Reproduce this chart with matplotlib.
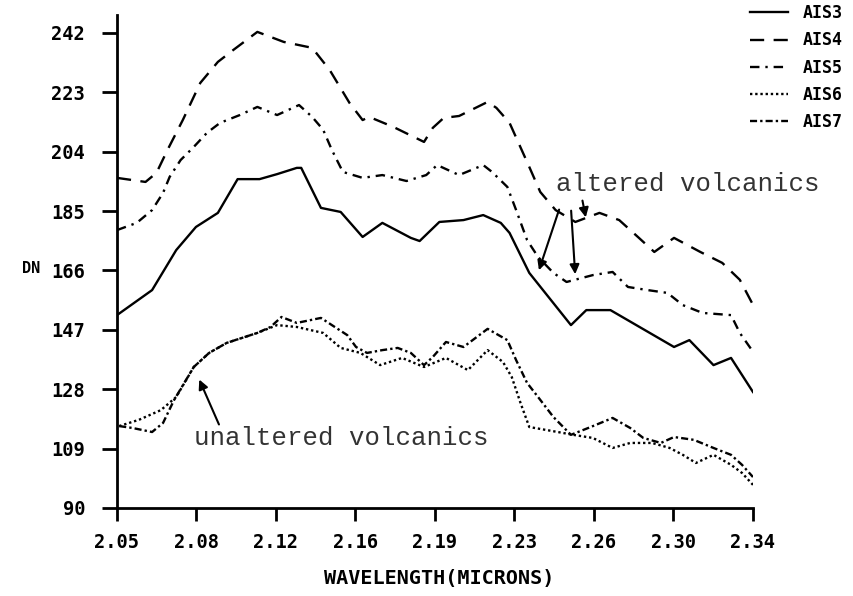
import matplotlib
matplotlib.use("Agg")
import matplotlib.pyplot as plt

# wavelength (microns) and DN
x3 = [2.050, 2.066, 2.077, 2.086, 2.096, 2.105, 2.115, 2.123, 2.132, 2.134, 2.143, 2.152, 2.162, 2.171, 2.184,
      2.188, 2.197, 2.208, 2.217, 2.225, 2.229, 2.238, 2.257, 2.264, 2.275, 2.304, 2.311, 2.322, 2.330, 2.340]
ais3 = [151.7, 159.7, 172.5, 179.9, 184.4, 195.2, 195.2, 196.8, 198.8, 198.8, 186.0, 184.7, 176.7, 181.2, 176.4,
        175.4, 181.5, 182.1, 183.7, 181.2, 178.0, 165.2, 148.5, 153.3, 153.3, 141.5, 143.7, 135.7, 138.0, 127.1]

x4 = [2.050, 2.063, 2.068, 2.073, 2.080, 2.088, 2.096, 2.103, 2.114, 2.126, 2.139, 2.147, 2.156, 2.162, 2.165,
      2.176, 2.190, 2.194, 2.199, 2.206, 2.219, 2.223, 2.229, 2.238, 2.243, 2.250, 2.259, 2.270, 2.279, 2.288,
      2.295, 2.304, 2.316, 2.326, 2.334, 2.340]
ais4 = [195.6, 194.3, 197.2, 204.5, 214.1, 226.0, 232.7, 236.5, 242.3, 239.1, 237.2, 230.1, 219.6, 214.1, 215.1,
        211.9, 207.1, 211.6, 214.8, 215.4, 219.9, 218.0, 213.2, 199.1, 191.1, 185.3, 181.5, 184.4, 182.1, 176.4,
        171.9, 176.4, 171.9, 168.4, 163.0, 155.0]

x5 = [2.050, 2.059, 2.066, 2.071, 2.074, 2.079, 2.085, 2.091, 2.097, 2.106, 2.114, 2.123, 2.133, 2.139, 2.144,
      2.148, 2.153, 2.162, 2.171, 2.182, 2.191, 2.196, 2.206, 2.217, 2.221, 2.228, 2.232, 2.237, 2.242, 2.249,
      2.255, 2.267, 2.276, 2.283, 2.292, 2.301, 2.308, 2.317, 2.330, 2.334, 2.340]
ais5 = [178.9, 181.2, 185.3, 190.8, 195.9, 201.3, 205.5, 210.0, 213.2, 215.7, 218.3, 215.7, 218.9, 215.1, 211.0,
        204.5, 197.5, 195.6, 196.5, 194.6, 196.5, 199.7, 196.5, 199.7, 197.5, 192.7, 185.3, 175.7, 170.3, 165.2,
        162.3, 164.5, 165.5, 160.7, 159.7, 158.8, 154.9, 152.4, 151.7, 146.0, 140.0]

x6 = [2.051, 2.060, 2.070, 2.077, 2.085, 2.092, 2.100, 2.107, 2.114, 2.123, 2.132, 2.144, 2.152, 2.161, 2.170,
      2.180, 2.190, 2.200, 2.210, 2.219, 2.226, 2.230, 2.234, 2.238, 2.251, 2.258, 2.267, 2.276, 2.284, 2.294,
      2.302, 2.308, 2.314, 2.322, 2.330, 2.335, 2.340]
ais6 = [116.2, 118.2, 121.3, 125.5, 135.1, 139.6, 142.8, 144.4, 146.0, 148.5, 147.9, 146.0, 141.2, 139.6, 135.7,
        138.0, 135.1, 138.0, 134.1, 140.5, 136.7, 131.9, 123.6, 115.9, 114.3, 113.4, 112.4, 109.2, 110.8, 110.8,
        109.2, 107.0, 104.4, 107.0, 103.8, 101.2, 97.4]

x7 = [2.051, 2.057, 2.066, 2.071, 2.076, 2.085, 2.092, 2.100, 2.107, 2.114, 2.120, 2.125, 2.132, 2.143, 2.148,
      2.155, 2.159, 2.164, 2.171, 2.178, 2.184, 2.190, 2.194, 2.200, 2.208, 2.219, 2.228, 2.232, 2.237, 2.242,
      2.249, 2.257, 2.266, 2.276, 2.284, 2.290, 2.298, 2.304, 2.313, 2.322, 2.330, 2.335, 2.340]
ais7 = [116.2, 115.6, 114.3, 117.2, 124.5, 135.1, 139.6, 142.8, 144.4, 146.0, 147.9, 151.1, 149.2, 150.8, 148.5,
        145.3, 141.5, 139.6, 140.5, 141.2, 139.6, 135.7, 138.3, 143.1, 141.5, 147.3, 143.7, 137.3, 130.0, 125.5,
        119.1, 113.4, 115.9, 118.8, 115.6, 112.4, 110.8, 112.7, 111.8, 109.2, 107.0, 103.8, 99.9]

xticks = [2.05, 2.08625, 2.1225, 2.15875, 2.195, 2.23125, 2.2675, 2.30375, 2.34]
xlabels = ['2.05', '2.08', '2.12', '2.16', '2.19', '2.23', '2.26', '2.30', '2.34']
yticks = [90, 109, 128, 147, 166, 185, 204, 223, 242]

tickfont = {'family': 'DejaVu Sans Mono', 'weight': 'bold', 'size': 13.5}

fig = plt.figure(figsize=(8.54, 5.96), dpi=100)
ax = fig.add_axes([0.137, 0.1477, 0.7447, 0.8271])

lw = 1.7
ax.plot(x3, ais3, color='black', lw=lw, label='AIS3')
ax.plot(x4, ais4, color='black', lw=lw, linestyle=(0, (6, 4)), label='AIS4')
ax.plot(x5, ais5, color='black', lw=lw, linestyle=(0, (4, 2.5, 1, 2.5)), label='AIS5')
ax.plot(x6, ais6, color='black', lw=lw, linestyle=(0, (1, 1.2)), label='AIS6')
ax.plot(x7, ais7, color='black', lw=lw, linestyle=(0, (3, 1.3, 1, 1.3)), label='AIS7')

ax.set_xlim(2.05, 2.34)
ax.set_ylim(90, 247.7)
ax.set_xticks(xticks)
ax.set_xticklabels(xlabels, fontdict=tickfont)
ax.set_yticks(yticks)
ax.set_yticklabels([str(v) for v in yticks], fontdict=tickfont)
ax.tick_params(axis='y', length=11, width=2, pad=12)
ax.tick_params(axis='x', length=9, width=2, pad=9)
ax.spines['top'].set_visible(False)
ax.spines['right'].set_visible(False)
ax.spines['left'].set_linewidth(2)
ax.spines['bottom'].set_linewidth(2)

fig.text(0.026, 0.55, 'DN', fontfamily='DejaVu Sans Mono', fontweight='bold', fontsize=11, va='center')
fig.text(0.514, 0.03, 'WAVELENGTH(MICRONS)', fontfamily='DejaVu Sans Mono', fontweight='bold',
         fontsize=14.5, ha='center', va='center')

fig.legend(loc='upper left', bbox_to_anchor=(0.878, 0.993), frameon=False, borderaxespad=0, borderpad=0,
           handlelength=2.3, handletextpad=0.9, labelspacing=0.55,
           prop={'family': 'DejaVu Sans Mono', 'weight': 'bold', 'size': 12})

note = {'family': 'Liberation Mono', 'size': 18.5, 'color': '#333333'}
arrow = dict(arrowstyle='-|>', color='black', lw=1.5, mutation_scale=14)
ax.text(2.250, 193.6, 'altered volcanics', fontdict=note, va='center', ha='left')
ax.annotate('', xy=(2.242, 165.2), xytext=(2.252, 186.3), arrowprops=arrow)
ax.annotate('', xy=(2.259, 163.9), xytext=(2.257, 186.0), arrowprops=arrow)
ax.annotate('', xy=(2.264, 182.1), xytext=(2.262, 189.2), arrowprops=arrow)
ax.text(2.085, 112.4, 'unaltered volcanics', fontdict=note, va='center', ha='left')
ax.annotate('', xy=(2.087, 131.9), xytext=(2.097, 115.9), arrowprops=arrow)

fig.savefig('out.png', dpi=100)
